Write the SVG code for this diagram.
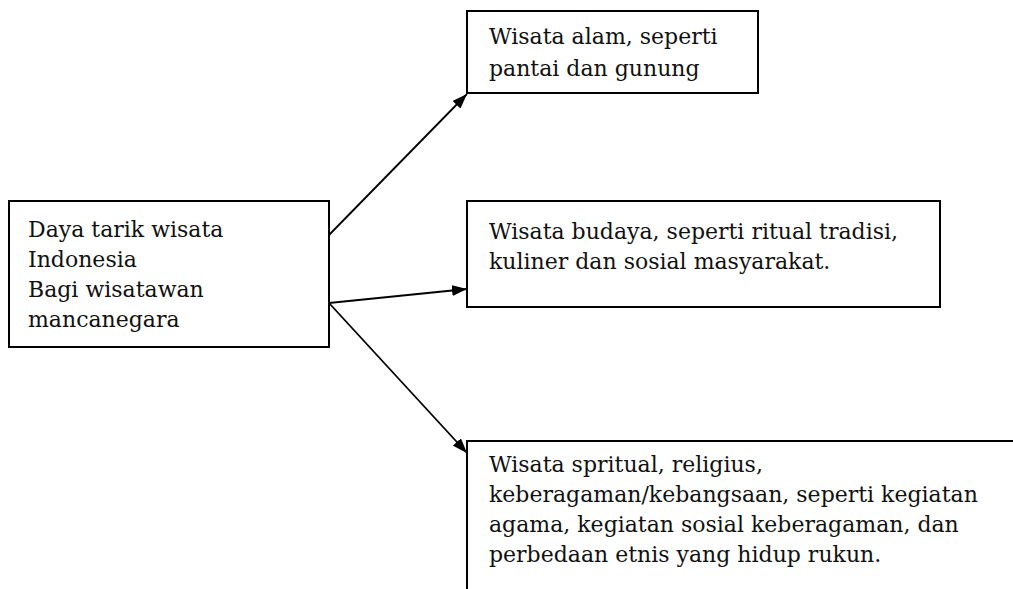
<svg xmlns="http://www.w3.org/2000/svg" width="1013" height="589" viewBox="0 0 1013 589">
<style>
.box{fill:#fff;stroke:#000;stroke-width:2}
.t{font-family:"DejaVu Serif","Liberation Serif",serif;font-size:22px;fill:#111}
.c{stroke:#000;stroke-width:1.8;fill:none}
</style>
<defs>
<marker id="ah" viewBox="0 0 15 11" refX="15" refY="5.5" markerWidth="15" markerHeight="11" markerUnits="userSpaceOnUse" orient="auto">
<path d="M0,0 L15,5.5 L0,11 z" fill="#000"/>
</marker>
</defs>
<rect width="1013" height="589" fill="#fff"/>
<g id="connectors">
<line class="c" x1="329" y1="235" x2="467" y2="94" marker-end="url(#ah)"/>
<line class="c" x1="329" y1="303" x2="467" y2="289" marker-end="url(#ah)"/>
<line class="c" x1="329" y1="303" x2="467" y2="453" marker-end="url(#ah)"/>
</g>
<g id="source">
<rect class="box" x="9" y="201" width="320" height="146"/>
<text class="t" x="28" y="237">Daya tarik wisata</text>
<text class="t" x="28" y="267">Indonesia</text>
<text class="t" x="28" y="297">Bagi wisatawan</text>
<text class="t" x="28" y="327">mancanegara</text>
</g>
<g id="alam">
<rect class="box" x="467" y="11" width="291" height="82"/>
<text class="t" x="489" y="44">Wisata alam, seperti</text>
<text class="t" x="489" y="76">pantai dan gunung</text>
</g>
<g id="budaya">
<rect class="box" x="467" y="201" width="473" height="106"/>
<text class="t" x="489" y="239">Wisata budaya, seperti ritual tradisi,</text>
<text class="t" x="489" y="269">kuliner dan sosial masyarakat.</text>
</g>
<g id="spiritual">
<rect class="box" x="467" y="441" width="560" height="160"/>
<text class="t" x="489" y="472">Wisata spritual, religius,</text>
<text class="t" x="489" y="502">keberagaman/kebangsaan, seperti kegiatan</text>
<text class="t" x="489" y="532">agama, kegiatan sosial keberagaman, dan</text>
<text class="t" x="489" y="562">perbedaan etnis yang hidup rukun.</text>
</g>
</svg>
